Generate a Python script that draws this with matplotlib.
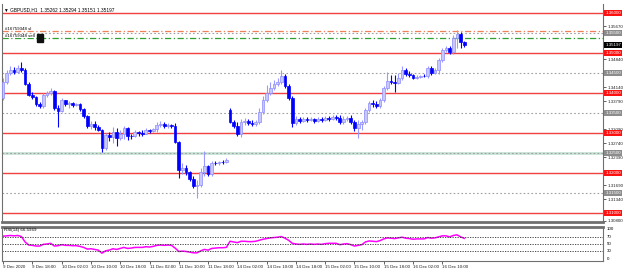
import numpy as np
import matplotlib
matplotlib.use('Agg')
from matplotlib import pyplot as plt
from matplotlib import transforms

plt.rcParams['font.family'] = ['Liberation Sans', 'DejaVu Sans']

# GBPUSD H1 bars, 9 Dec 2020 10:00 .. 16 Dec 2020 16:00
opens = [1.3387, 1.3427, 1.34495, 1.3457, 1.3452, 1.3462, 1.3457, 1.3422, 1.33945, 1.33895,
         1.3372, 1.3367, 1.33945, 1.33995, 1.34045, 1.3362, 1.33545, 1.3382, 1.3372, 1.33745,
         1.33695, 1.3372, 1.33595, 1.3342, 1.3317, 1.3322, 1.33145, 1.3307, 1.3262, 1.32945,
         1.32895, 1.3302, 1.3287, 1.3297, 1.3312, 1.3292, 1.3292, 1.3302, 1.32995, 1.3297,
         1.3307, 1.33045, 1.33095, 1.33195, 1.3322, 1.3317, 1.33195, 1.3317, 1.3277, 1.3207,
         1.3212, 1.3202, 1.31845, 1.3167, 1.31695, 1.3202, 1.3217, 1.3197, 1.32245, 1.3224,
         1.3227, 1.3226, 1.3357, 1.3327, 1.3317, 1.3297, 1.3327, 1.33295, 1.33245, 1.3322,
         1.3327, 1.3352, 1.3382, 1.33995, 1.3412, 1.3422, 1.3427, 1.3442, 1.3417, 1.3387,
         1.33245, 1.33345, 1.33295, 1.33345, 1.3332, 1.33345, 1.33295, 1.33345, 1.3332, 1.3337,
         1.33345, 1.33395, 1.3337, 1.3327, 1.33345, 1.3337, 1.3327, 1.3312, 1.3322, 1.3327,
         1.3357, 1.33745, 1.3372, 1.3367, 1.3382, 1.3412, 1.34295, 1.3427, 1.34245, 1.3437,
         1.3457, 1.3447, 1.34445, 1.3437, 1.34395, 1.3442, 1.3441, 1.3462, 1.34495, 1.3457,
         1.3482, 1.3507, 1.3512, 1.3502, 1.3537, 1.3547, 1.35262]
highs = [1.3437, 1.3457, 1.3467, 1.34645, 1.34695, 1.3477, 1.3462, 1.3427, 1.3402, 1.3392,
         1.3377, 1.33995, 1.34045, 1.3412, 1.3407, 1.33695, 1.3387, 1.3382, 1.33795, 1.3377,
         1.33745, 1.33745, 1.3362, 1.33445, 1.33295, 1.33295, 1.33195, 1.33095, 1.32995, 1.3302,
         1.33145, 1.3312, 1.3307, 1.3317, 1.33145, 1.3297, 1.3307, 1.33045, 1.3307, 1.3312,
         1.33095, 1.3312, 1.3327, 1.33295, 1.3327, 1.33245, 1.3322, 1.33245, 1.32795, 1.32245,
         1.32195, 1.32045, 1.3192, 1.3182, 1.3212, 1.32545, 1.32195, 1.32295, 1.32295, 1.32295,
         1.3232, 1.3237, 1.3362, 1.3332, 1.3327, 1.33345, 1.3337, 1.33345, 1.3332, 1.3332,
         1.3362, 1.3392, 1.34195, 1.3427, 1.3432, 1.3437, 1.3457, 1.3447, 1.3422, 1.3392,
         1.3342, 1.33395, 1.33395, 1.33395, 1.33395, 1.3337, 1.33395, 1.33395, 1.3342, 1.3342,
         1.33445, 1.33445, 1.33445, 1.3342, 1.3342, 1.33445, 1.3332, 1.3332, 1.3332, 1.3362,
         1.33795, 1.3382, 1.33795, 1.3387, 1.3417, 1.3452, 1.34445, 1.34445, 1.34495, 1.3467,
         1.3462, 1.34545, 1.3447, 1.34445, 1.34445, 1.3447, 1.3467, 1.3467, 1.3462, 1.3487,
         1.3512, 1.3517, 1.3517, 1.35445, 1.3557, 1.3552, 1.35294]
lows = [1.3382, 1.3422, 1.34445, 1.3447, 1.34495, 1.3452, 1.34195, 1.3392, 1.33845, 1.3367,
        1.3362, 1.3362, 1.33895, 1.33945, 1.3357, 1.33145, 1.3352, 1.3367, 1.3362, 1.33645,
        1.3367, 1.33545, 1.3337, 1.3312, 1.33095, 1.3307, 1.33045, 1.3252, 1.3257, 1.32795,
        1.32745, 1.3267, 1.3282, 1.32845, 1.3282, 1.32845, 1.32895, 1.3292, 1.3292, 1.3297,
        1.32995, 1.3302, 1.3302, 1.33145, 1.3312, 1.3312, 1.3312, 1.32745, 1.3187, 1.3197,
        1.31945, 1.31795, 1.3162, 1.3137, 1.31645, 1.3192, 1.3192, 1.3192, 1.32195, 1.32195,
        1.3222, 1.32245, 1.33245, 1.3312, 1.3292, 1.32895, 1.33195, 1.33195, 1.3317, 1.3317,
        1.3322, 1.3347, 1.3377, 1.33945, 1.3407, 1.3417, 1.3422, 1.3412, 1.3382, 1.33145,
        1.33195, 1.33245, 1.3327, 1.3327, 1.33295, 1.33245, 1.3327, 1.3327, 1.33295, 1.33295,
        1.3332, 1.3332, 1.3322, 1.3322, 1.33295, 1.3322, 1.33045, 1.3287, 1.3307, 1.3322,
        1.3352, 1.33645, 1.3362, 1.3362, 1.3377, 1.3407, 1.3422, 1.3402, 1.3422, 1.3432,
        1.3442, 1.34395, 1.34345, 1.34345, 1.3437, 1.34395, 1.3437, 1.34445, 1.3447, 1.3447,
        1.3477, 1.3502, 1.3497, 1.3497, 1.3512, 1.3512, 1.35151]
closes = [1.3427, 1.34495, 1.3457, 1.3452, 1.3462, 1.3457, 1.3422, 1.33945, 1.33895, 1.3372,
          1.3367, 1.33945, 1.33995, 1.34045, 1.3362, 1.33545, 1.3382, 1.3372, 1.33745, 1.33695,
          1.3372, 1.33595, 1.3342, 1.3317, 1.3322, 1.33145, 1.3307, 1.3262, 1.32945, 1.32895,
          1.3302, 1.3287, 1.3297, 1.3312, 1.3292, 1.32915, 1.3302, 1.32995, 1.3297, 1.3307,
          1.33045, 1.33095, 1.33195, 1.3322, 1.3317, 1.33195, 1.3317, 1.3277, 1.3207, 1.3212,
          1.3202, 1.31845, 1.3167, 1.31695, 1.3202, 1.3217, 1.3197, 1.32245, 1.3224, 1.3227,
          1.3226, 1.3232, 1.3327, 1.3317, 1.3297, 1.3327, 1.33295, 1.33245, 1.3322, 1.3327,
          1.3352, 1.3382, 1.33995, 1.3412, 1.3422, 1.3427, 1.3442, 1.3417, 1.3387, 1.33245,
          1.33345, 1.33295, 1.33345, 1.3332, 1.33345, 1.33295, 1.33345, 1.3332, 1.3337, 1.33345,
          1.33395, 1.3337, 1.3327, 1.33345, 1.3337, 1.3327, 1.3312, 1.3322, 1.3327, 1.3357,
          1.33745, 1.3372, 1.3367, 1.3382, 1.3412, 1.34295, 1.3427, 1.34245, 1.3437, 1.3457,
          1.3447, 1.34445, 1.3437, 1.34395, 1.3442, 1.3441, 1.3462, 1.34495, 1.3457, 1.3482,
          1.3507, 1.3512, 1.3502, 1.3537, 1.3547, 1.35262, 1.35197]
rsi = [73, 74, 75, 74, 75, 72, 56, 47, 46, 44,
       44, 49, 50, 52, 44, 45, 48, 46, 46, 45,
       45, 43, 40, 35, 36, 34, 32, 23, 30, 32,
       36, 34, 37, 40, 37, 38, 40, 40, 40, 42,
       41, 43, 46, 47, 46, 47, 46, 38, 28, 29,
       28, 26, 24, 24, 30, 34, 32, 37, 38, 39,
       39, 40, 58, 56, 54, 58, 58, 57, 57, 58,
       61, 64, 66, 68, 69, 70, 72, 67, 61, 52,
       50, 49, 50, 49, 50, 49, 50, 49, 51, 52,
       52, 52, 48, 50, 51, 48, 44, 46, 48, 56,
       59, 58, 57, 60, 65, 68, 67, 66, 68, 70,
       67, 66, 64, 65, 65, 65, 69, 67, 68, 71,
       74, 74, 71, 75, 77, 71, 66.5969]

date_ticks = [0, 8, 16, 24, 32, 40, 48, 56, 64, 72, 80, 88, 96, 104, 112, 120]
date_labels = ['9 Dec 2020', '9 Dec 18:00', '10 Dec 02:00', '10 Dec 10:00', '10 Dec 18:00',
               '11 Dec 02:00', '11 Dec 10:00', '11 Dec 18:00', '14 Dec 02:00', '14 Dec 10:00',
               '14 Dec 18:00', '15 Dec 02:00', '15 Dec 10:00', '15 Dec 18:00', '16 Dec 02:00',
               '16 Dec 10:00']

red_levels = [1.36, 1.35, 1.34, 1.33, 1.32, 1.31]
grey_levels = [1.355, 1.345, 1.335, 1.325, 1.315]
price_ticks = [1.3080, 1.3134, 1.3169, 1.3239, 1.3274, 1.3309,
               1.3379, 1.3414, 1.3484, 1.3567]
sl_price = 1.35545
sell_price = 1.3537
band_price = 1.3250
rsi_levels = [70, 50, 30]

fig = plt.figure(figsize=(6.25, 2.72), dpi=100)
ax = fig.add_axes([2 / 625, 1 - 222 / 272, 601 / 625, 218 / 272])
ax2 = fig.add_axes([2 / 625, 1 - 261 / 272, 601 / 625, 34 / 272], sharex=ax)

x = np.arange(len(closes))
o = np.array(opens)
c = np.array(closes)
up = c >= o

# levels
ax.axhline(band_price, color='#c8e2d6', lw=2, zorder=1)
for lv in red_levels:
    ax.axhline(lv, color='#f04040', lw=1, zorder=1)
for lv in grey_levels:
    ax.axhline(lv, color='#a0a0a0', lw=0.8, ls=(0, (1.5, 2)), zorder=1)
ax.axhline(sl_price, color='#f0805a', lw=0.9, ls=(0, (5, 2, 1, 2)), zorder=1)
ax.axhline(sell_price, color='#30a030', lw=0.9, ls=(0, (5, 2, 1, 2)), zorder=1)

# candles
ax.vlines(x[up], np.array(lows)[up], np.array(highs)[up], color='#9a9aff', lw=0.8, zorder=2)
ax.vlines(x[~up], np.array(lows)[~up], np.array(highs)[~up], color='#0000ff', lw=0.8, zorder=2)
ax.bar(x[up], (c - o)[up], bottom=o[up], width=0.75, color='#c8c8ff',
       edgecolor='#8c8cff', linewidth=0.5, zorder=3)
ax.bar(x[~up], (c - o)[~up], bottom=o[~up], width=0.75, color='#0000ff',
       edgecolor='#0000ff', linewidth=0.5, zorder=3)

ax.set_xlim(-0.3, 163.9)
ax.set_ylim(1.3077, 1.3622)

ax.yaxis.tick_right()
ax.set_yticks(price_ticks)
ax.set_yticklabels(['%.5f' % p for p in price_ticks])
ax.tick_params(axis='y', labelsize=3.2, length=2, width=0.5, pad=1.5, colors='#202020')
ax.tick_params(axis='x', bottom=False, labelbottom=False)
for s in ax.spines.values():
    s.set_color('#707070')
    s.set_linewidth(0.8)
ax.spines['top'].set_visible(False)
ax.spines['bottom'].set_linewidth(2)

tr = transforms.blended_transform_factory(ax.transAxes, ax.transData)
def price_box(p, fc, txt=None):
    ax.text(1.004, p, txt or '%.5f' % p, transform=tr, fontsize=3.2, color='white',
            va='center', ha='left', clip_on=False,
            bbox=dict(boxstyle='square,pad=0.25', fc=fc, ec='none'))
for lv in red_levels:
    price_box(lv, '#ff1010')
for lv in grey_levels:
    price_box(lv, '#8c8c8c')
price_box(closes[-1], '#000000')

ax.text(0.004, 0.985, '\u25BC GBPUSD,H1  %.5f %.5f %.5f %.5f' % (opens[-1], highs[-1], lows[-1], closes[-1]),
        transform=ax.transAxes, fontsize=3.4, va='top', ha='left')
ax.text(0.005, sl_price, '#16759348 sl', transform=tr, fontsize=3.2, va='bottom', ha='left')
ax.text(0.005, sell_price, '#16759348 sell', transform=tr, fontsize=3.2, va='bottom', ha='left',
        bbox=dict(boxstyle='square,pad=0.1', fc='white', ec='none'))
ax.text(0.061, sell_price, '  ', transform=tr, fontsize=4, va='center', ha='left',
        bbox=dict(boxstyle='square,pad=0.3', fc='#101010', ec='#101010'))

# RSI panel
ax2.plot(x, rsi, color='#ff00ff', lw=1.1)
for lv in rsi_levels:
    ax2.axhline(lv, color='#303030', lw=0.6, ls=(0, (1.5, 1.5)))
ax2.set_ylim(0, 100)
ax2.yaxis.tick_right()
ax2.set_yticks([])
tr2 = transforms.blended_transform_factory(ax2.transAxes, ax2.transData)
for lv, va in [(100, 'top'), (70, 'center'), (50, 'center'), (30, 'center'), (0, 'bottom')]:
    ax2.text(1.006, lv, str(lv), transform=tr2, fontsize=3.2, va=va, ha='left', clip_on=False)
ax2.text(0.004, 0.96, 'RSI(14) %.4f' % rsi[-1], transform=ax2.transAxes, fontsize=3.2,
         va='top', ha='left')
ax2.set_xticks(date_ticks)
ax2.set_xticklabels(date_labels, ha='left')
ax2.tick_params(axis='x', labelsize=3.2, length=2, width=0.5, pad=1, colors='#202020')
for s in ax2.spines.values():
    s.set_color('#707070')
    s.set_linewidth(0.8)
ax2.spines['top'].set_linewidth(2)

fig.savefig('out.png', dpi=100, facecolor='white')
